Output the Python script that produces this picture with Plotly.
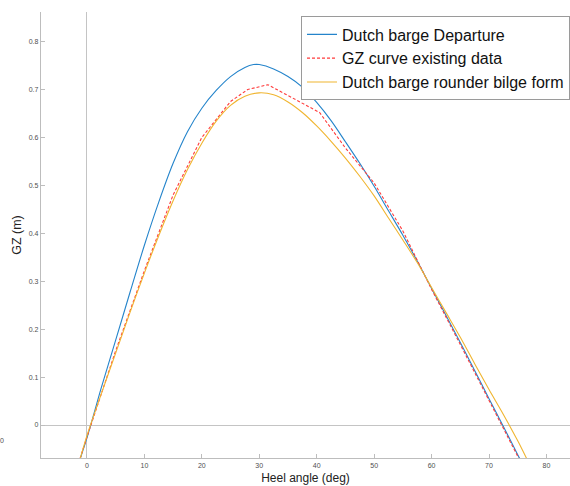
import plotly.graph_objects as go

# Heel angles (deg) and righting lever GZ (m) for each hull variant
heel_departure = [-2, 0, 2.5, 5, 7.5, 10, 12.5, 15, 17.5, 20, 22.5, 25, 27.5, 29, 30,
                  32.5, 35, 37.5, 40, 42.5, 45, 47.5, 50, 52.5, 55, 57.5, 60, 62.5,
                  65, 67.5, 70, 72.5, 75, 77.5]
gz_departure = [-0.100, -0.027, 0.078, 0.177, 0.277, 0.375, 0.465, 0.546, 0.612, 0.661,
                0.698, 0.727, 0.746, 0.752, 0.752, 0.743, 0.727, 0.705, 0.673, 0.635,
                0.591, 0.546, 0.498, 0.447, 0.396, 0.342, 0.285, 0.229, 0.172, 0.114,
                0.055, -0.003, -0.062, -0.120]

heel_existing = [-2, 0, 5, 10, 15, 20, 25, 28, 31.5, 40.5, 45, 50, 55, 60, 65, 70, 75, 77]
gz_existing = [-0.100, -0.025, 0.155, 0.322, 0.480, 0.600, 0.675, 0.700, 0.710, 0.652,
               0.578, 0.505, 0.405, 0.283, 0.168, 0.050, -0.066, -0.112]

heel_rounder = [-2, 0, 2.5, 5, 7.5, 10, 12.5, 15, 17.5, 20, 22.5, 25, 27.5, 30, 32.5,
                35, 37.5, 40, 42.5, 45, 47.5, 50, 52.5, 55, 57.5, 60, 62.5, 65, 67.5,
                70, 72.5, 75, 77.5]
gz_rounder = [-0.105, -0.022, 0.065, 0.150, 0.235, 0.317, 0.395, 0.468, 0.533, 0.588,
              0.634, 0.667, 0.686, 0.693, 0.689, 0.674, 0.652, 0.624, 0.592, 0.557,
              0.519, 0.478, 0.432, 0.386, 0.339, 0.287, 0.235, 0.183, 0.128, 0.074,
              0.022, -0.033, -0.093]

x_ticks = [0, 10, 20, 30, 40, 50, 60, 70, 80]
y_ticks = [0, 0.1, 0.2, 0.3, 0.4, 0.5, 0.6, 0.7, 0.8]

FONT = "Arial, Liberation Sans, sans-serif"
TICK_GREY = "#505050"

fig = go.Figure()
fig.add_trace(go.Scatter(x=heel_departure, y=gz_departure, mode="lines",
                         name="Dutch barge Departure",
                         line=dict(color="#2484CB", width=1.1, shape="spline",
                                   smoothing=0.8)))
fig.add_trace(go.Scatter(x=heel_existing, y=gz_existing, mode="lines",
                         name="GZ curve existing data",
                         line=dict(color="#FF3B3B", width=1.1, dash="3px,2px")))
fig.add_trace(go.Scatter(x=heel_rounder, y=gz_rounder, mode="lines",
                         name="Dutch barge rounder bilge form",
                         line=dict(color="#F0B530", width=1.1, shape="spline",
                                   smoothing=0.8)))

axis_common = dict(
    showgrid=False,
    zeroline=True, zerolinecolor="#c4c4c4", zerolinewidth=1,
    showline=True, linecolor="#bdbdbd", linewidth=1.3,
    ticks="inside", ticklen=4, tickwidth=1, tickcolor="#bdbdbd",
    tickfont=dict(family=FONT, size=7, color=TICK_GREY),
)

fig.update_xaxes(range=[-8.0, 84.1], tickvals=x_ticks,
                 ticktext=[str(v) for v in x_ticks],
                 title=dict(text="Heel angle (deg)", standoff=6,
                            font=dict(family=FONT, size=12, color="#222222")),
                 **axis_common)
fig.update_yaxes(range=[-0.0688, 0.8617], tickvals=y_ticks,
                 ticktext=["0", "0.1", "0.2", "0.3", "0.4", "0.5", "0.6", "0.7", "0.8"],
                 title=dict(text="GZ (m)", standoff=4,
                            font=dict(family=FONT, size=12.5, color="#222222")),
                 **axis_common)

# stray tick label near the left edge
fig.add_annotation(text="0", xref="paper", yref="y", x=-0.066, y=-0.033,
                   xanchor="right", showarrow=False,
                   font=dict(family=FONT, size=7, color=TICK_GREY))

fig.update_layout(
    width=570, height=486,
    margin=dict(l=41, r=0, t=12, b=28),
    paper_bgcolor="white", plot_bgcolor="white",
    showlegend=True,
    legend=dict(x=1.0, y=0.99, xanchor="right", yanchor="top",
                bgcolor="white", bordercolor="#9a9a9a", borderwidth=1,
                font=dict(family=FONT, size=16, color="#111111"),
                tracegroupgap=0, itemwidth=30),
    font=dict(family=FONT),
)

fig.write_html("out.html")
